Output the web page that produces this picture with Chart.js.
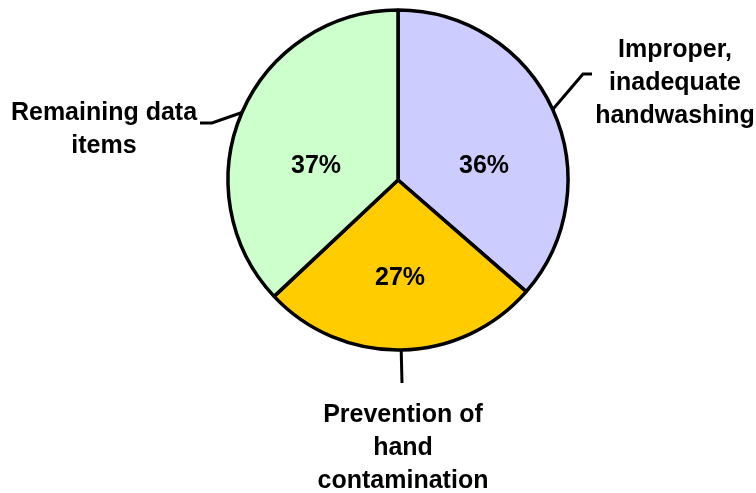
<!DOCTYPE html>
<html lang="en">
<head>
    <meta charset="UTF-8">
    <title>Handwashing pie</title>
    <script src="https://cdn.jsdelivr.net/npm/chart.js"></script>
    <style>
        body { margin: 0; background: #fff; }
        canvas { display: block; }
    </style>
</head>
<body>
    <canvas id="pieChart" width="756" height="493"></canvas>

    <script>
        // categories (multi-line labels) and their shares in percent
        const categories = [
            ['Improper,', 'inadequate', 'handwashing'],
            ['Prevention of', 'hand', 'contamination'],
            ['Remaining data', 'items']
        ];
        const shares = [36.4, 26.6, 37.0];
        const colors = ['#CCCCFF', '#FFCC00', '#CCFFCC'];

        // where the texts sit, as offsets from the pie centre (px)
        const pctOffsets = [[86, -7], [2, 105], [-82, -7]];
        const nameOffsets = [[277, -123], [5, 242], [-294, -60]];
        const leaderPoints = [
            [[185, -106], [194, -106]],
            [[4, 203]],
            [[-186, -57], [-198, -57]]
        ];

        const FONT = 'bold 25px "Liberation Sans", Arial, sans-serif';
        const LINE_H = 33;

        const labelPlugin = {
            id: 'pieLabels',
            afterDatasetsDraw(chart) {
                const ctx = chart.ctx;
                const meta = chart.getDatasetMeta(0);
                ctx.save();
                ctx.font = FONT;
                ctx.fillStyle = '#000';
                ctx.textAlign = 'center';
                ctx.textBaseline = 'alphabetic';
                meta.data.forEach((arc, i) => {
                    const p = arc.getProps(['x', 'y', 'startAngle', 'endAngle', 'outerRadius'], true);
                    const mid = (p.startAngle + p.endAngle) / 2;

                    // percent inside the slice
                    ctx.fillText(Math.round(shares[i]) + '%', p.x + pctOffsets[i][0], p.y + pctOffsets[i][1]);

                    // leader line from the rim
                    ctx.beginPath();
                    ctx.lineWidth = 3;
                    ctx.strokeStyle = '#000';
                    ctx.moveTo(p.x + Math.cos(mid) * p.outerRadius, p.y + Math.sin(mid) * p.outerRadius);
                    leaderPoints[i].forEach(pt => ctx.lineTo(p.x + pt[0], p.y + pt[1]));
                    ctx.stroke();

                    // category name
                    categories[i].forEach((line, k) => {
                        ctx.fillText(line, p.x + nameOffsets[i][0], p.y + nameOffsets[i][1] + k * LINE_H);
                    });
                });
                ctx.restore();
            }
        };

        new Chart(document.getElementById('pieChart').getContext('2d'), {
            type: 'pie',
            data: {
                labels: categories,
                datasets: [{
                    data: shares,
                    backgroundColor: colors,
                    borderColor: '#000',
                    borderWidth: 3.5
                }]
            },
            options: {
                responsive: false,
                animation: false,
                radius: 170,
                layout: { padding: { left: 226, right: 186, top: 8, bottom: 141 } },
                plugins: {
                    legend: { display: false },
                    tooltip: { enabled: false }
                }
            },
            plugins: [labelPlugin]
        });
    </script>
</body>
</html>
